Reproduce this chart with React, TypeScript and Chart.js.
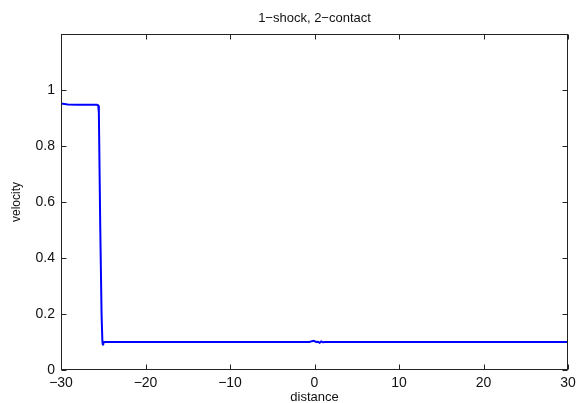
import React, { useEffect, useRef } from "react";
import { Chart, registerables } from "chart.js";

Chart.register(...registerables);

const distance = [
  -30, -29.2, -28, -25.75, -25.6, -25.52, -25.35, -25.2, -25.1, -25.03, -24.95, -24.8,
  -20, -10, -0.6, -0.3, -0.1, 0.2, 0.4, 0.6, 0.8, 1.0, 1.3, 5, 15, 25, 30,
];
const velocity = [
  0.952, 0.948, 0.947, 0.947, 0.945, 0.92, 0.5, 0.2, 0.1, 0.088, 0.1, 0.1,
  0.1, 0.1, 0.1, 0.103, 0.104, 0.1, 0.101, 0.097, 0.102, 0.099, 0.1, 0.1, 0.1, 0.1, 0.1,
];
const xTicks = [-30, -20, -10, 0, 10, 20, 30];
const yTicks = [0, 0.2, 0.4, 0.6, 0.8, 1];
const titleText = "1\u2212shock, 2\u2212contact";

const fmt = (v: number) => (v < 0 ? "\u2212" + String(-v) : String(v));

const boxPlugin = {
  id: "matlabBox",
  afterDraw(chart: any) {
    const { ctx, chartArea } = chart;
    const { left, right, top, bottom } = chartArea;
    const xs = chart.scales.x;
    const ys = chart.scales.y;
    ctx.save();
    ctx.strokeStyle = "#222";
    ctx.lineWidth = 1;
    const L = Math.round(left) + 0.5;
    const R = Math.round(right) - 0.5;
    const T = Math.round(top) + 0.5;
    const B = Math.round(bottom) - 0.5;
    ctx.strokeRect(L, T, R - L, B - T);
    const tl = 5;
    ctx.beginPath();
    xTicks.forEach((t) => {
      const px = Math.round(xs.getPixelForValue(t)) + 0.5;
      ctx.moveTo(px, B);
      ctx.lineTo(px, B - tl);
      ctx.moveTo(px, T);
      ctx.lineTo(px, T + tl);
    });
    yTicks.forEach((t) => {
      const py = Math.round(ys.getPixelForValue(t)) + 0.5;
      ctx.moveTo(L, py);
      ctx.lineTo(L + tl, py);
      ctx.moveTo(R, py);
      ctx.lineTo(R - tl, py);
    });
    ctx.stroke();
    ctx.restore();
  },
};

export default function App() {
  const ref = useRef<HTMLCanvasElement>(null);
  useEffect(() => {
    if (!ref.current) return;
    const font = "'Liberation Sans', Arial, Helvetica, sans-serif";
    const chart = new Chart(ref.current, {
      type: "scatter",
      data: {
        datasets: [
          {
            data: distance.map((x, i) => ({ x, y: velocity[i] })),
            showLine: true,
            borderColor: "#0000ff",
            borderWidth: 2,
            pointRadius: 0,
            tension: 0,
          },
        ],
      },
      plugins: [boxPlugin],
      options: {
        animation: false,
        responsive: false,
        layout: { padding: { left: 0, right: 8, top: 0, bottom: 0 } },
        plugins: {
          legend: { display: false },
          tooltip: { enabled: false },
          title: {
            display: true,
            text: titleText,
            fullSize: false,
            color: "#111",
            font: { family: font, size: 13, weight: "normal" },
            padding: { top: 11, bottom: 7.4 },
          },
        },
        scales: {
          x: {
            type: "linear",
            min: -30,
            max: 30,
            afterBuildTicks: (s: any) => {
              s.ticks = xTicks.map((v) => ({ value: v }));
            },
            afterFit: (s: any) => {
              s.height = 33;
              s.paddingLeft = 0;
              s.paddingRight = 0;
            },
            grid: { display: false, drawTicks: false },
            border: { display: false },
            ticks: {
              padding: 5,
              color: "#111",
              font: { family: font, size: 14 },
              maxRotation: 0,
              callback: (v: any) => fmt(Number(v)),
            },
            title: {
              display: true,
              text: "distance",
              color: "#111",
              font: { family: font, size: 13 },
              padding: { top: 0, bottom: -2 },
            },
          },
          y: {
            type: "linear",
            min: 0,
            max: 1.2,
            afterBuildTicks: (s: any) => {
              s.ticks = yTicks.map((v) => ({ value: v }));
            },
            afterFit: (s: any) => {
              s.width = 61;
              s.paddingTop = 0;
              s.paddingBottom = 0;
            },
            grid: { display: false, drawTicks: false },
            border: { display: false },
            ticks: {
              padding: 6,
              color: "#111",
              font: { family: font, size: 14 },
              callback: (v: any) => String(Math.round(Number(v) * 10) / 10),
            },
            title: {
              display: true,
              text: "velocity",
              color: "#111",
              font: { family: font, size: 12 },
              padding: { top: 9, bottom: 0 },
            },
          },
        },
      },
    } as any);
    return () => chart.destroy();
  }, []);
  return (
    <div style={{ position: "fixed", left: 0, top: 0, width: 576, height: 403, background: "#fff" }}>
      <canvas ref={ref} width={576} height={403} style={{ display: "block" }} />
    </div>
  );
}
